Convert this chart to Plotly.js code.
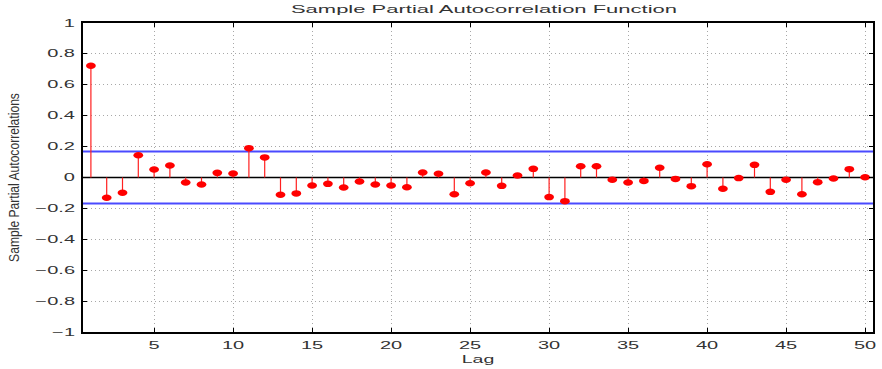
<!DOCTYPE html>
<html>
<head>
<meta charset="utf-8">
<script src="https://cdn.plot.ly/plotly-3.0.1.min.js"></script>
<style>html,body{margin:0;padding:0;background:#fff;}#chart{width:882px;height:369px;}</style>
</head>
<body>
<div id="chart"></div>
<script>
const lags = [];
for (let i = 1; i <= 50; i++) lags.push(i);
const pacf = [0.723, -0.131, -0.099, 0.144, 0.052, 0.078, -0.032, -0.045, 0.030, 0.026,
  0.190, 0.130, -0.112, -0.103, -0.052, -0.041, -0.065, -0.026, -0.045, -0.052,
  -0.063, 0.032, 0.024, -0.108, -0.037, 0.032, -0.054, 0.013, 0.056, -0.127,
  -0.153, 0.073, 0.073, -0.015, -0.032, -0.022, 0.063, -0.009, -0.056, 0.086,
  -0.073, -0.004, 0.082, -0.093, -0.015, -0.108, -0.030, -0.006, 0.054, 0.002];
const bound = 0.168;
const xTicks = [5, 10, 15, 20, 25, 30, 35, 40, 45, 50];
const yTicks = [-1, -0.8, -0.6, -0.4, -0.2, 0, 0.2, 0.4, 0.6, 0.8, 1];
const yTickText = ['\u22121', '\u22120.8', '\u22120.6', '\u22120.4', '\u22120.2', '0', '0.2', '0.4', '0.6', '0.8', '1'];

const stemX = [], stemY = [];
lags.forEach((l, i) => { stemX.push(l, l, null); stemY.push(0, pacf[i], null); });

const traces = [
  {x: [0.5, 50.5], y: [0, 0], mode: 'lines', line: {color: '#000', width: 1.5}, hoverinfo: 'skip'},
  {x: [0.5, 50.5], y: [bound, bound], mode: 'lines', line: {color: '#4a4aff', width: 2}, hoverinfo: 'skip'},
  {x: [0.5, 50.5], y: [-bound, -bound], mode: 'lines', line: {color: '#4a4aff', width: 2}, hoverinfo: 'skip'},
  {x: stemX, y: stemY, mode: 'lines', line: {color: '#ff2020', width: 1.2}, hoverinfo: 'skip'},
  {x: lags, y: pacf, mode: 'markers', marker: {color: '#ff0000', size: 6.5, line: {width: 0}}}
];

const FONT = 'Liberation Sans, Arial, Helvetica, sans-serif';
const axisCommon = {
  showline: true, linecolor: '#000', linewidth: 2, mirror: 'ticks',
  ticks: 'inside', ticklen: 4, tickcolor: '#000', tickwidth: 1,
  showgrid: true, gridcolor: '#a8a8a8', griddash: '1px,3px', gridwidth: 1,
  zeroline: false,
  tickfont: {family: FONT, size: 10, color: '#333'}
};

const layout = {
  width: 882, height: 369,
  margin: {l: 83, r: 9, t: 23, b: 37},
  paper_bgcolor: '#fff', plot_bgcolor: '#fff',
  showlegend: false,
  title: {text: 'Sample Partial Autocorrelation Function', x: 484 / 882, xref: 'container', xanchor: 'center',
    y: 1 - 9 / 369, yanchor: 'middle', yref: 'container',
    font: {family: FONT, size: 11, color: '#333'}},
  xaxis: Object.assign({}, axisCommon, {
    range: [0.5, 50.5], tickvals: xTicks, ticktext: xTicks.map(String),
    ticklabelstandoff: 3,
    title: {text: 'Lag', standoff: 5, font: {family: FONT, size: 11.5, color: '#333'}}
  }),
  yaxis: Object.assign({}, axisCommon, {
    range: [-1, 1], tickvals: yTicks, ticktext: yTickText,
    ticklabelstandoff: 4,
    title: {text: 'Sample Partial Autocorrelations', standoff: 32, font: {family: FONT, size: 14, color: '#333'}}
  })
};

function stretch(el, sx, sy) {
  const x = parseFloat(el.getAttribute('x')) || 0;
  const y = parseFloat(el.getAttribute('y')) || 0;
  const t = el.getAttribute('transform') || '';
  el.setAttribute('transform', t + ' translate(' + x + ',' + y + ') scale(' + sx + ',' + sy + ') translate(' + (-x) + ',' + (-y) + ')');
}

Plotly.newPlot('chart', traces, layout, {displayModeBar: false, staticPlot: true}).then(function (gd) {
  gd.querySelectorAll('.xtick text, .ytick text').forEach(el => stretch(el, 2.0, 1));
  gd.querySelectorAll('.gtitle').forEach(el => stretch(el, 2.0, 1));
  gd.querySelectorAll('.xtitle').forEach(el => stretch(el, 1.7, 1));
  gd.querySelectorAll('.ytitle').forEach(el => {
    const len = el.getComputedTextLength();
    stretch(el, 169 / len, 1);
  });
  gd.querySelectorAll('.scatterlayer .trace:last-child .points path').forEach(p => {
    p.setAttribute('transform', (p.getAttribute('transform') || '') + ' scale(1.5,1)');
  });
});
</script>
</body>
</html>
